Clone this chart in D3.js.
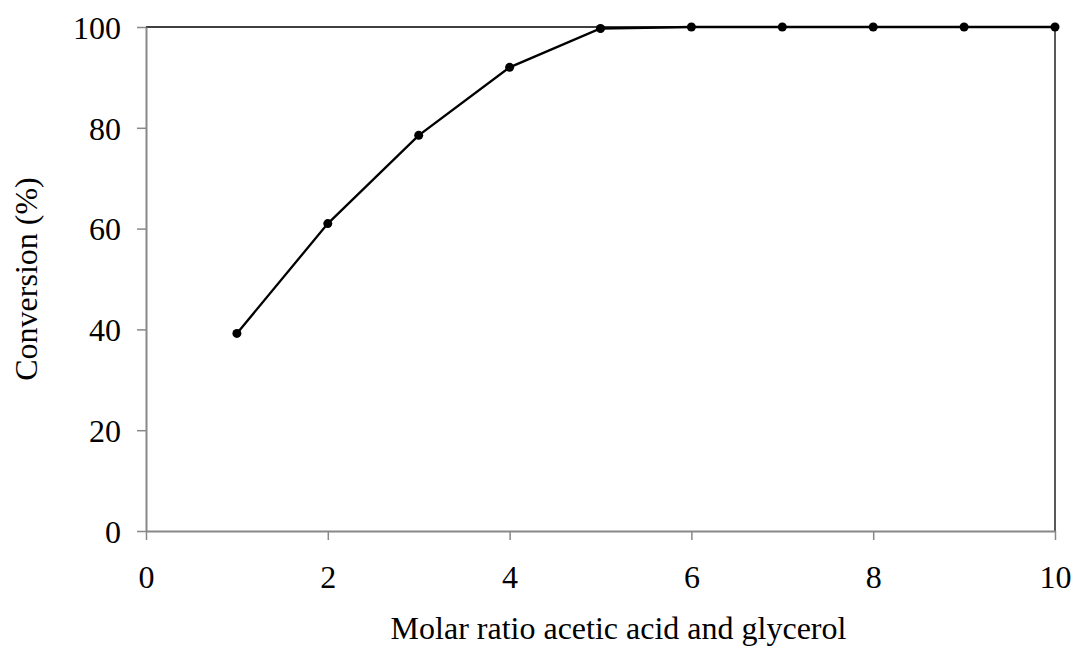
<!DOCTYPE html>
<html><head><meta charset="utf-8">
<script src="https://cdn.jsdelivr.net/npm/d3@7"></script>
<style>body{margin:0;background:#fff}svg{display:block}text{font-family:"Liberation Serif","Times New Roman",serif;fill:#000}</style>
</head><body>
<svg id="c" width="1074" height="648"></svg>
<script>
const ratios = [1,2,3,4,5,6,7,8,9,10];
const conversion = [39.2,61.0,78.5,92.0,99.7,100,100,100,100,100];
const xTicks = [0,2,4,6,8,10];
const yTicks = [0,20,40,60,80,100];
const xTitle = "Molar ratio acetic acid and glycerol";
const yTitle = "Conversion (%)";

const svg = d3.select("#c");
const L=146, R=1055, T=27, B=531;
const FS = 32;
const x = d3.scaleLinear().domain([0,10]).range([L,R]);
const y = d3.scaleLinear().domain([0,100]).range([B,T]);

svg.append("path").attr("d",`M${L},${T}H${R}V${B}`).attr("fill","none").attr("stroke","#000").attr("stroke-width",1.3);

const gx = svg.append("g").attr("transform",`translate(0,${B})`)
  .call(d3.axisBottom(x).tickValues(xTicks).tickSize(9).tickSizeOuter(0).tickPadding(25));
const gy = svg.append("g").attr("transform",`translate(${L},0)`)
  .call(d3.axisLeft(y).tickValues(yTicks).tickSize(9).tickSizeOuter(0).tickPadding(16));
[gx,gy].forEach(g=>{
  g.attr("font-family","Liberation Serif").attr("font-size",FS);
  g.select(".domain").attr("stroke","#888").attr("stroke-width",2);
  g.selectAll(".tick line").attr("stroke","#888").attr("stroke-width",1.5);
  g.selectAll(".tick text").attr("font-family","Liberation Serif").attr("font-size",FS).attr("fill","#000");
});
gy.selectAll(".tick text").attr("dy","0.35em");

const pts = ratios.map((r,i)=>[r,conversion[i]]);
svg.append("path").datum(pts)
  .attr("d",d3.line().x(d=>x(d[0])).y(d=>y(d[1])))
  .attr("fill","none").attr("stroke","#000").attr("stroke-width",2.3);
svg.selectAll("circle.pt").data(pts).enter().append("circle")
  .attr("cx",d=>x(d[0])).attr("cy",d=>y(d[1])).attr("r",4.5).attr("fill","#000");

svg.append("text").attr("x",(L+R)/2+18).attr("y",639).attr("text-anchor","middle")
  .attr("font-size",FS).text(xTitle);
svg.append("text").attr("transform",`translate(37,${(T+B)/2}) rotate(-90)`).attr("text-anchor","middle")
  .attr("font-size",FS).text(yTitle);
</script>
</body></html>
